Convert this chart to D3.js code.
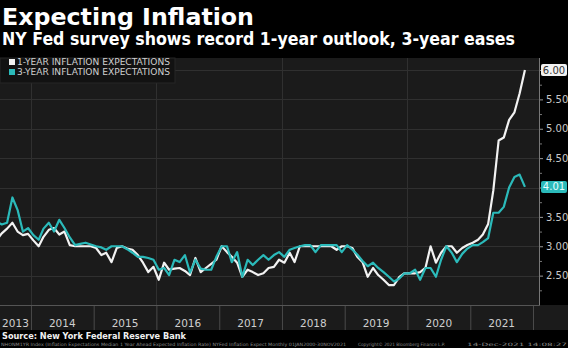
<!DOCTYPE html>
<html>
<head>
<meta charset="utf-8">
<script src="https://cdn.jsdelivr.net/npm/d3@7"></script>
<style>
  html, body { margin: 0; padding: 0; background: #000; }
  svg { display: block; }
</style>
</head>
<body>
<svg id="chart" width="568" height="348"></svg>
<script>
// Monthly survey medians, Jun 2013 – Nov 2021 (percent)
const firstMonth = "2013-06";
const oneYear = [
  3.10, 3.22, 3.30, 3.40, 3.25, 3.19, 3.21,
  3.10, 3.00, 3.16, 3.28, 3.31, 3.20, 3.25, 3.02, 3.00, 3.00, 3.00, 3.00,
  2.97, 2.85, 2.89, 2.73, 2.97, 3.00, 2.96, 2.94, 2.85, 2.72, 2.56, 2.65,
  2.43, 2.72, 2.60, 2.62, 2.63, 2.58, 2.51, 2.80, 2.56, 2.63, 2.70, 2.77,
  3.00, 2.90, 2.82, 2.72, 2.48, 2.60, 2.56, 2.51, 2.54, 2.63, 2.65, 2.77,
  2.72, 2.89, 2.73, 3.00, 3.00, 3.00, 3.00, 3.00, 3.00, 3.00, 2.94, 3.00,
  3.00, 2.97, 2.82, 2.73, 2.48, 2.63, 2.51, 2.43, 2.34, 2.34, 2.48, 2.54,
  2.54, 2.54, 2.56, 2.63, 3.00, 2.72, 2.89, 3.00, 3.00, 2.89, 2.97, 3.02,
  3.06, 3.11, 3.20, 3.38, 3.95, 4.80, 4.85, 5.15, 5.28, 5.60, 6.00
];
const threeYear = [
  3.42, 3.37, 3.40, 3.83, 3.62, 3.25, 3.31,
  3.19, 3.11, 3.30, 3.40, 3.25, 3.45, 3.31, 3.15, 3.02, 3.04, 3.06, 3.03,
  3.00, 2.98, 2.94, 3.00, 3.00, 3.00, 2.95, 2.89, 2.82, 2.82, 2.80, 2.77,
  2.60, 2.63, 2.51, 2.77, 2.73, 2.85, 2.55, 2.77, 2.62, 2.60, 2.60, 2.82,
  3.00, 3.00, 2.73, 2.90, 2.48, 2.77, 2.68, 2.77, 2.85, 2.77, 2.85, 2.90,
  2.82, 2.94, 2.97, 3.00, 3.02, 3.02, 2.90, 3.02, 3.02, 3.02, 3.02, 2.90,
  3.02, 2.94, 2.86, 2.75, 2.66, 2.72, 2.63, 2.56, 2.48, 2.40, 2.45, 2.54,
  2.54, 2.60, 2.43, 2.63, 2.63, 2.48, 2.77, 3.00, 2.89, 2.73, 2.87, 2.96,
  3.02, 3.02, 3.07, 3.14, 3.57, 3.57, 3.67, 4.00, 4.18, 4.22, 4.01
];
const yearLabels = ["2013", "2014", "2015", "2016", "2017", "2018", "2019", "2020", "2021"];
const yTicks = [2.5, 3.0, 3.5, 4.0, 4.5, 5.0, 5.5, 6.0];
const gridYears = [2014, 2016, 2018, 2020];
const seriesNames = ["1-YEAR INFLATION EXPECTATIONS", "3-YEAR INFLATION EXPECTATIONS"];
const seriesColors = ["#f2f2f2", "#2bbaba"];

const FONT = "'DejaVu Sans', Verdana, sans-serif";
const svg = d3.select("#chart");
const W = 568, H = 348;
const plot = { left: 0, right: 540, top: 58, bottom: 305 };
const bandBottom = 330;

// scales
const x = d3.scaleTime()
  .domain([new Date(2013, 0, 1), new Date(2022, 0, 1)])
  .range([-31.75, 533]);
const y = d3.scaleLinear().domain([2, 6]).range([305, 70]);

const start = d3.timeParse("%Y-%m")(firstMonth);
const dates = oneYear.map((_, i) => d3.timeDay.offset(d3.timeMonth.offset(start, i), 14));

// backgrounds
svg.append("rect").attr("width", W).attr("height", H).attr("fill", "#000");
svg.append("rect")
  .attr("x", plot.left).attr("y", plot.top)
  .attr("width", plot.right - plot.left).attr("height", plot.bottom - plot.top)
  .attr("fill", "#1b1b1b");
svg.append("rect")
  .attr("x", 0).attr("y", plot.bottom)
  .attr("width", W).attr("height", bandBottom - plot.bottom)
  .attr("fill", "#1b1b1b");

// gridlines
const grid = svg.append("g").attr("stroke", "#303030").attr("stroke-width", 1);
grid.selectAll("line.h").data(yTicks).join("line")
  .attr("x1", plot.left).attr("x2", plot.right)
  .attr("y1", d => Math.round(y(d)) + 0.5).attr("y2", d => Math.round(y(d)) + 0.5);
grid.selectAll("line.v").data(gridYears).join("line")
  .attr("x1", d => Math.round(x(new Date(d, 0, 1))) + 0.5)
  .attr("x2", d => Math.round(x(new Date(d, 0, 1))) + 0.5)
  .attr("y1", plot.top).attr("y2", plot.bottom);

// bottom time axis: year separators in the label band
const xAxis = d3.axisBottom(x)
  .tickValues(d3.range(2014, 2023).map(yr => new Date(yr, 0, 1)))
  .tickSize(bandBottom - plot.bottom)
  .tickFormat("");
const gx = svg.append("g").attr("transform", `translate(0,${plot.bottom})`).call(xAxis);
gx.select(".domain").remove();
gx.selectAll(".tick line").attr("stroke", "#4a4a4a");
svg.append("line")
  .attr("x1", 0).attr("x2", plot.right)
  .attr("y1", plot.bottom + 0.5).attr("y2", plot.bottom + 0.5)
  .attr("stroke", "#555");

// year labels centred in the visible part of each year
svg.append("g").selectAll("text").data(yearLabels).join("text")
  .attr("x", d => {
    const a = Math.max(plot.left, x(new Date(+d, 0, 1)));
    const b = Math.min(plot.right, x(new Date(+d + 1, 0, 1)));
    return (a + b) / 2;
  })
  .attr("y", 327)
  .attr("text-anchor", "middle")
  .attr("font-family", FONT).attr("font-size", 10.5)
  .attr("fill", "#cfcfcf")
  .text(d => d);

// lines
svg.append("clipPath").attr("id", "plotclip")
  .append("rect").attr("x", plot.left).attr("y", plot.top)
  .attr("width", plot.right - plot.left).attr("height", plot.bottom - plot.top);

const line = d3.line().x(d => x(d[0])).y(d => y(d[1]));
const series = [oneYear, threeYear];
const lines = svg.append("g").attr("clip-path", "url(#plotclip)");
series.forEach((vals, k) => {
  lines.append("path")
    .datum(vals.map((v, i) => [dates[i], v]))
    .attr("fill", "none")
    .attr("stroke", seriesColors[k])
    .attr("stroke-width", 2.2)
    .attr("stroke-linejoin", "round")
    .attr("d", line);
});

// legend
const lg = svg.append("g");
lg.append("rect").attr("x", 0).attr("y", plot.top).attr("width", 175).attr("height", 25)
  .attr("fill", "#121212").attr("stroke", "#262626");
seriesNames.forEach((name, k) => {
  const yy = 65 + k * 10;
  lg.append("rect").attr("x", 9).attr("y", yy - 6).attr("width", 6).attr("height", 6)
    .attr("fill", seriesColors[k]);
  lg.append("text").attr("x", 17).attr("y", yy)
    .attr("font-family", FONT).attr("font-size", 8)
    .attr("fill", "#cfcfcf")
    .attr("textLength", 153).attr("lengthAdjust", "spacingAndGlyphs")
    .text(name);
});

// last-value tags
const lastTags = [
  { v: oneYear[oneYear.length - 1], fill: "#f2f2f2", text: "#333" },
  { v: threeYear[threeYear.length - 1], fill: "#2bbaba", text: "#e6ffff" }
];

// right value axis
svg.append("line")
  .attr("x1", plot.right - 0.5).attr("x2", plot.right - 0.5)
  .attr("y1", plot.top).attr("y2", plot.bottom)
  .attr("stroke", "#777");
const minor = d3.axisRight(y).tickValues(d3.range(2.25, 6.2, 0.5)).tickSize(2).tickFormat("");
const gmin = svg.append("g").attr("transform", `translate(${plot.right},0)`).call(minor);
gmin.select(".domain").remove();
gmin.selectAll(".tick line").attr("stroke", "#777");

const yAxis = d3.axisRight(y).tickValues(yTicks).tickSize(3).tickPadding(3).tickFormat(d3.format(".2f"));
const gy = svg.append("g").attr("transform", `translate(${plot.right},0)`).call(yAxis);
gy.select(".domain").remove();
gy.selectAll(".tick line").attr("stroke", "#999");
gy.selectAll(".tick text")
  .attr("font-family", FONT).attr("font-size", 10).attr("fill", "#c8c8c8")
  // tick labels sitting under a last-value tag are left out
  .filter(d => lastTags.some(t => Math.abs(y(t.v) - y(d)) < 11))
  .remove();

const tags = svg.append("g");
lastTags.forEach(t => {
  const cy = y(t.v);
  tags.append("rect").attr("x", 541).attr("y", cy - 6).attr("width", 26).attr("height", 12)
    .attr("rx", 2).attr("fill", t.fill);
  tags.append("text").attr("x", 554).attr("y", cy + 3.5)
    .attr("text-anchor", "middle")
    .attr("font-family", FONT).attr("font-size", 10).attr("fill", t.text)
    .text(d3.format(".2f")(t.v));
});

// titles
svg.append("text").attr("x", 2).attr("y", 25)
  .attr("font-family", FONT).attr("font-weight", "bold").attr("font-size", 23)
  .attr("fill", "#fff")
  .attr("textLength", 252).attr("lengthAdjust", "spacingAndGlyphs")
  .text("Expecting Inflation");
svg.append("text").attr("x", 2).attr("y", 45)
  .attr("font-family", FONT).attr("font-weight", "bold").attr("font-size", 17)
  .attr("fill", "#fff")
  .attr("textLength", 513).attr("lengthAdjust", "spacingAndGlyphs")
  .text("NY Fed survey shows record 1-year outlook, 3-year eases");

// source and footer
svg.append("text").attr("x", 2).attr("y", 338.5)
  .attr("font-family", FONT).attr("font-weight", "bold").attr("font-size", 9.5)
  .attr("fill", "#f0f0f0")
  .attr("textLength", 184).attr("lengthAdjust", "spacingAndGlyphs")
  .text("Source: New York Federal Reserve Bank");
const foot = svg.append("g").attr("font-family", FONT).attr("font-size", 4.5).attr("fill", "#8a8a8a");
foot.append("text").attr("x", 1).attr("y", 345.5)
  .attr("textLength", 345).attr("lengthAdjust", "spacingAndGlyphs")
  .text("NHONM1YR Index (Inflation Expectations Median 1 Year Ahead Expected Inflation Rate) NYFed Inflation Expect  Monthly 01JAN2000-30NOV2021");
foot.append("text").attr("x", 358).attr("y", 345.5)
  .attr("textLength", 87).attr("lengthAdjust", "spacingAndGlyphs")
  .text("Copyright\u00A9 2021 Bloomberg Finance L.P.");
foot.append("text").attr("x", 467).attr("y", 345.5)
  .attr("textLength", 100).attr("lengthAdjust", "spacingAndGlyphs")
  .text("14-Dec-2021 14:08:27");
</script>
</body>
</html>
